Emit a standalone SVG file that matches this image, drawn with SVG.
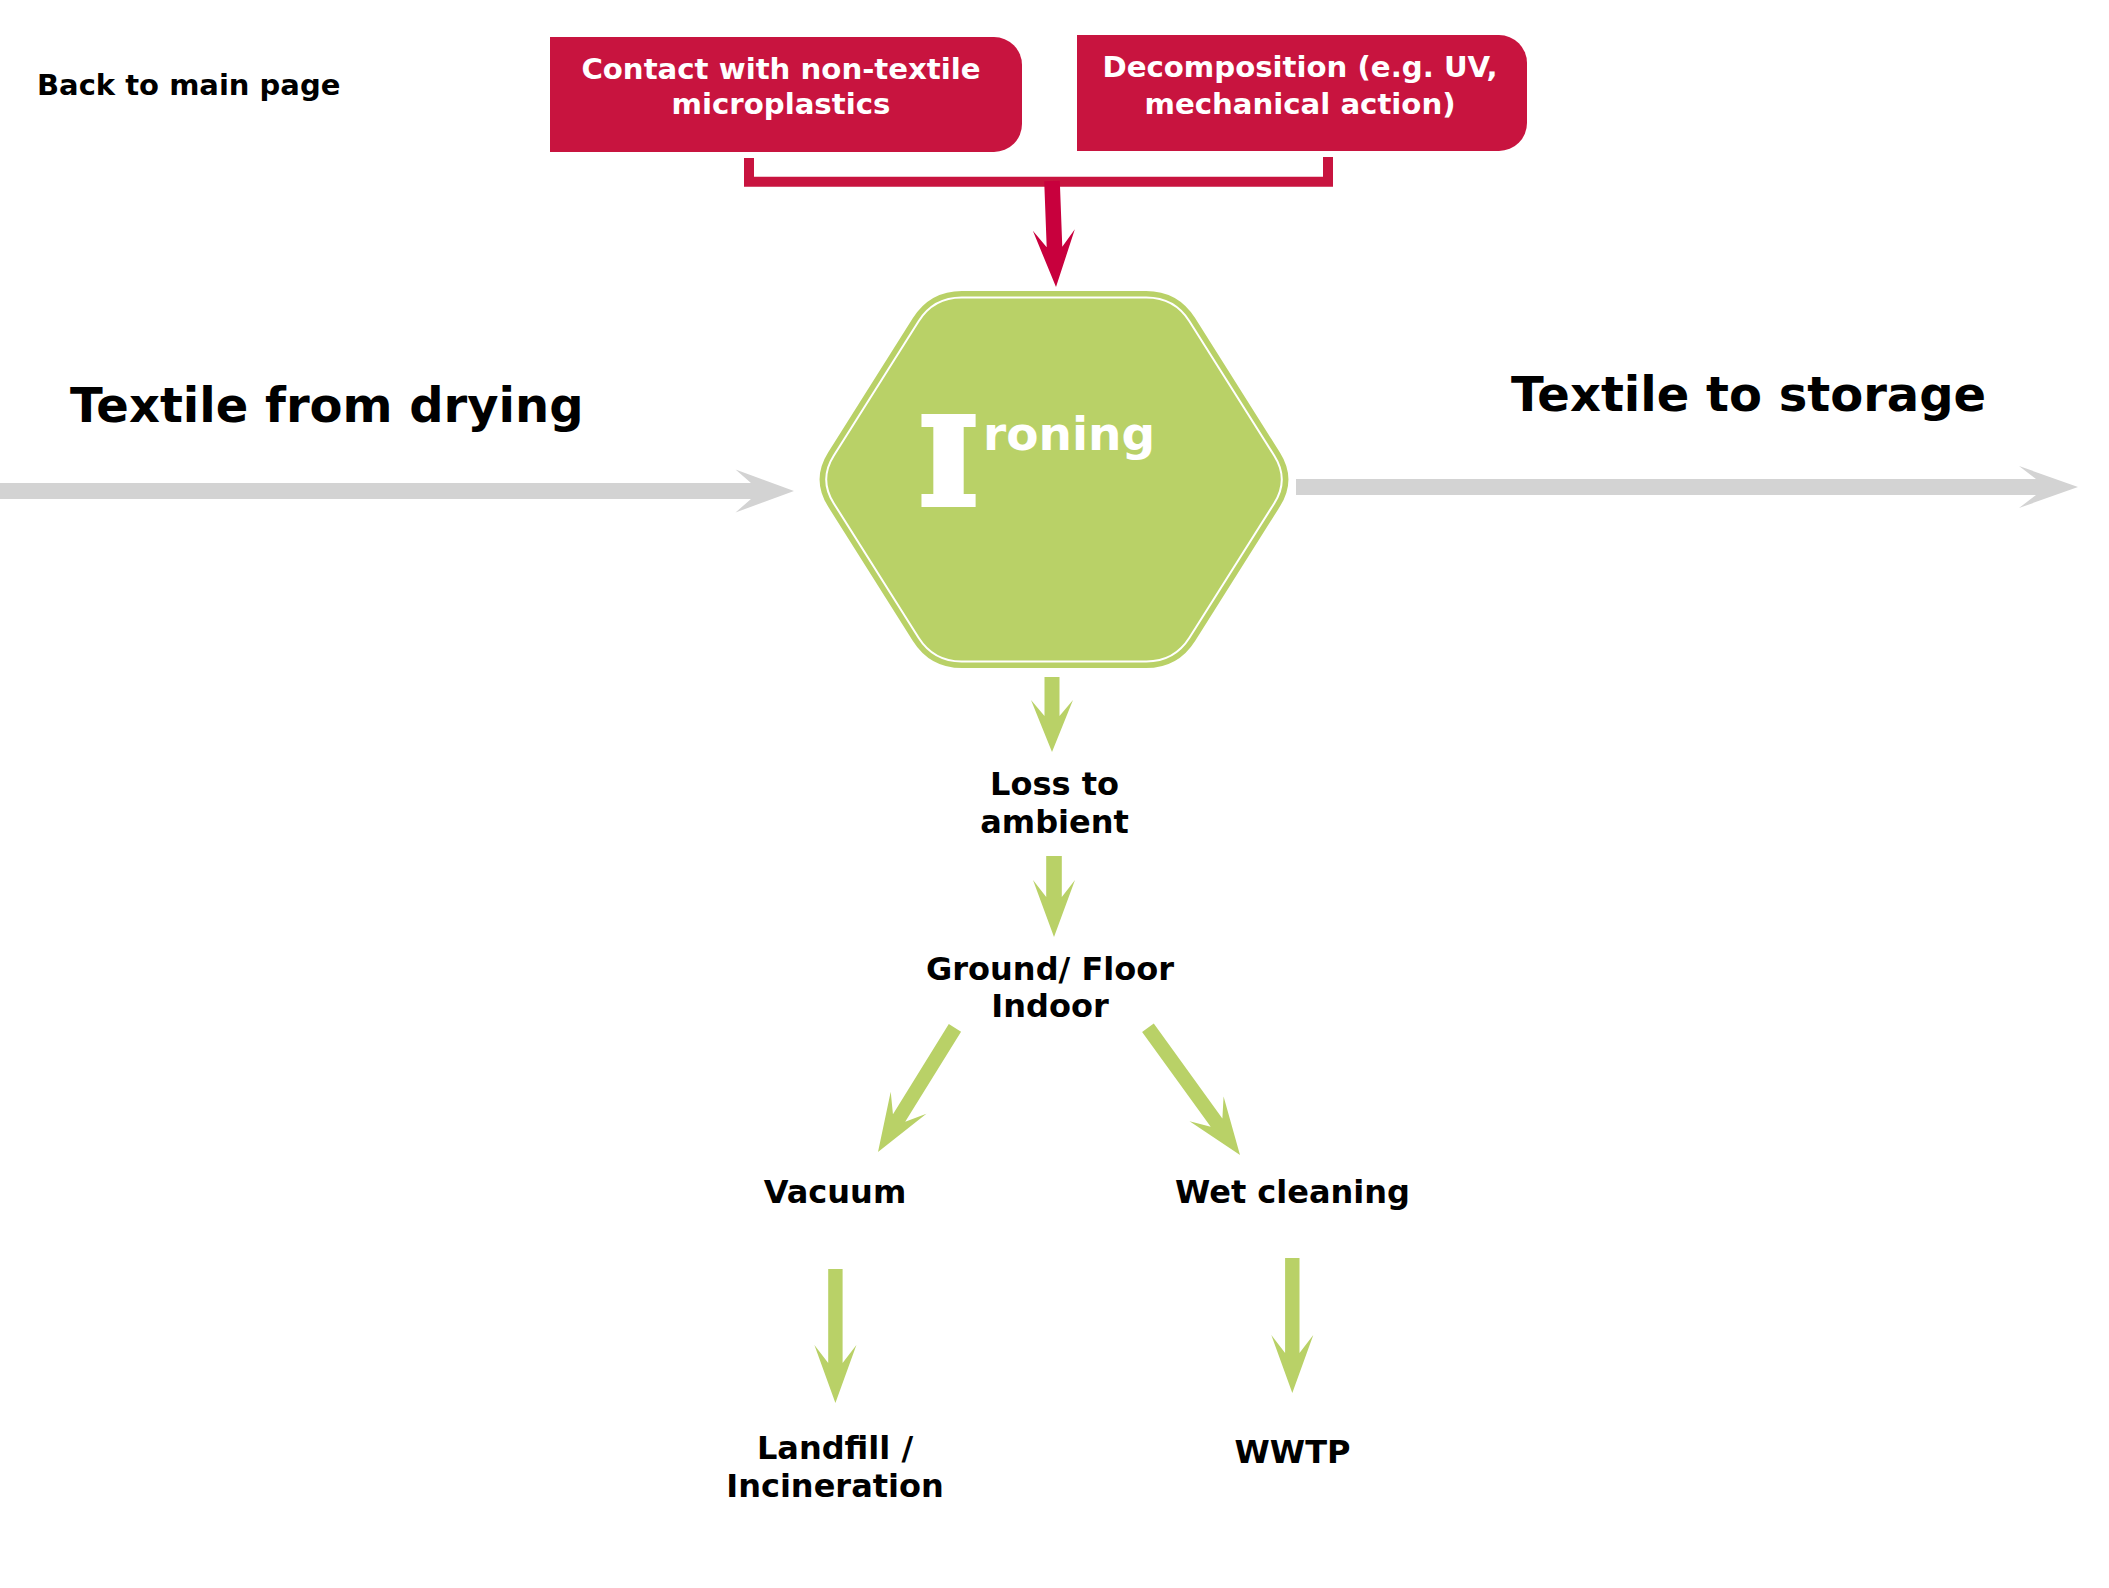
<svg xmlns="http://www.w3.org/2000/svg" width="2109" height="1588" viewBox="0 0 2109 1588">
  <defs>
    <style>
      .lbl { font-family: "DejaVu Sans", Verdana, sans-serif; font-weight: bold; fill: #000; }
      .box { fill: #C8143F; }
      .boxtxt { font-family: "DejaVu Sans", Verdana, sans-serif; font-weight: bold; font-size: 29.2px; fill: #fff; text-anchor: middle; }
      .small { font-size: 32px; text-anchor: middle; }
      .big { font-size: 48px; }
      .red { fill: #C8003D; }
      .green { fill: #B9D167; }
      .gray { fill: #D3D3D3; }
    </style>
  </defs>
  <rect width="2109" height="1588" fill="#fff"/>

  <g id="back-link">
    <text class="lbl" x="37" y="95" font-size="29">Back to main page</text>
  </g>

  <g id="node-contact">
    <path class="box" d="M550,37 H994 A28,28 0 0 1 1022,65 V124 A28,28 0 0 1 994,152 H550 Z"/>
    <text class="boxtxt" x="781" y="79">Contact with non-textile</text>
    <text class="boxtxt" x="781" y="114">microplastics</text>
  </g>

  <g id="node-decomposition">
    <path class="box" d="M1077,35 H1499 A28,28 0 0 1 1527,63 V123 A28,28 0 0 1 1499,151 H1077 Z"/>
    <text class="boxtxt" x="1300" y="77">Decomposition (e.g. UV,</text>
    <text class="boxtxt" x="1300" y="114">mechanical action)</text>
  </g>

  <g id="node-ironing">
    <path class="green" d="M962,291 L1146,291 Q1178,291 1195.1,318.1 L1279.9,452.4 Q1297,479.5 1279.9,506.6 L1195.1,640.9 Q1178,668 1146,668 L962,668 Q930,668 912.9,640.9 L828.1,506.6 Q811,479.5 828.1,452.4 L912.9,318.1 Q930,291 962,291 Z"/>
    <path fill="none" stroke="#fff" stroke-width="2" d="M961.6,297.5 L1146.4,297.5 Q1174.4,297.5 1189.4,321.2 L1274.3,455.8 Q1289.3,479.5 1274.3,503.2 L1189.4,637.8 Q1174.4,661.5 1146.4,661.5 L961.6,661.5 Q933.6,661.5 918.6,637.8 L833.7,503.2 Q818.7,479.5 833.7,455.8 L918.6,321.2 Q933.6,297.5 961.6,297.5 Z"/>
    <text transform="translate(948.5 504) scale(1.06 1)" x="0" y="0" font-family="'DejaVu Serif', serif" font-weight="bold" font-size="120" fill="#fff" stroke="#fff" stroke-width="6" stroke-linejoin="miter" text-anchor="middle">I</text>
    <text x="983" y="450" font-family="'DejaVu Sans', sans-serif" font-weight="bold" font-size="47" fill="#fff">roning</text>
  </g>

  <g id="label-from-drying">
    <text class="lbl big" x="70" y="422">Textile from drying</text>
  </g>
  <g id="label-to-storage">
    <text class="lbl big" x="1511" y="411">Textile to storage</text>
  </g>

  <g id="node-loss">
    <text class="lbl small" x="1054.5" y="795">Loss to</text>
    <text class="lbl small" x="1054.5" y="833">ambient</text>
  </g>
  <g id="node-ground">
    <text class="lbl small" x="1050" y="980">Ground/ Floor</text>
    <text class="lbl small" x="1050" y="1017">Indoor</text>
  </g>
  <g id="node-vacuum">
    <text class="lbl small" x="835" y="1203">Vacuum</text>
  </g>
  <g id="node-wet">
    <text class="lbl small" x="1292.5" y="1203">Wet cleaning</text>
  </g>
  <g id="node-landfill">
    <text class="lbl small" x="835" y="1459">Landfill /</text>
    <text class="lbl small" x="835" y="1497">Incineration</text>
  </g>
  <g id="node-wwtp">
    <text class="lbl small" x="1292.5" y="1463">WWTP</text>
  </g>

  <g id="connectors">
    <path d="M749,158 V181.7 H1328 V157" fill="none" stroke="#C8143F" stroke-width="10"/>
    <path class="red" transform="translate(1056,287) rotate(87.84)" d="M-106,-7.8 L-40,-7.8 L-57,-21 L0,0 L-57,21 L-40,7.8 L-106,7.8 Z"/>
    <path class="gray" transform="translate(794,491)" d="M-800,-8 L-43,-8 L-58.5,-21.5 L0,0 L-58.5,21.5 L-43,8 L-800,8 Z"/>
    <path class="gray" transform="translate(2078,487)" d="M-782,-8 L-42,-8 L-59,-21 L0,0 L-59,21 L-42,8 L-782,8 Z"/>
    <path class="green" transform="translate(1052,752) rotate(90)" d="M-75,-7.5 L-36,-7.5 L-52,-21 L0,0 L-52,21 L-36,7.5 L-75,7.5 Z"/>
    <path class="green" transform="translate(1054,937) rotate(90)" d="M-81,-7.8 L-40,-7.8 L-57,-21 L0,0 L-57,21 L-40,7.8 L-81,7.8 Z"/>
    <path class="green" transform="translate(878,1152) rotate(121.8)" d="M-146,-7.2 L-40,-7.2 L-58,-21 L0,0 L-58,21 L-40,7.2 L-146,7.2 Z"/>
    <path class="green" transform="translate(1240,1155) rotate(54.1)" d="M-157,-7.2 L-40,-7.2 L-57,-21 L0,0 L-57,21 L-40,7.2 L-157,7.2 Z"/>
    <path class="green" transform="translate(835.4,1403) rotate(90)" d="M-134,-7.2 L-40,-7.2 L-58,-21 L0,0 L-58,21 L-40,7.2 L-134,7.2 Z"/>
    <path class="green" transform="translate(1292.3,1393) rotate(90)" d="M-135,-7.2 L-40,-7.2 L-58,-21 L0,0 L-58,21 L-40,7.2 L-135,7.2 Z"/>
  </g>
</svg>
